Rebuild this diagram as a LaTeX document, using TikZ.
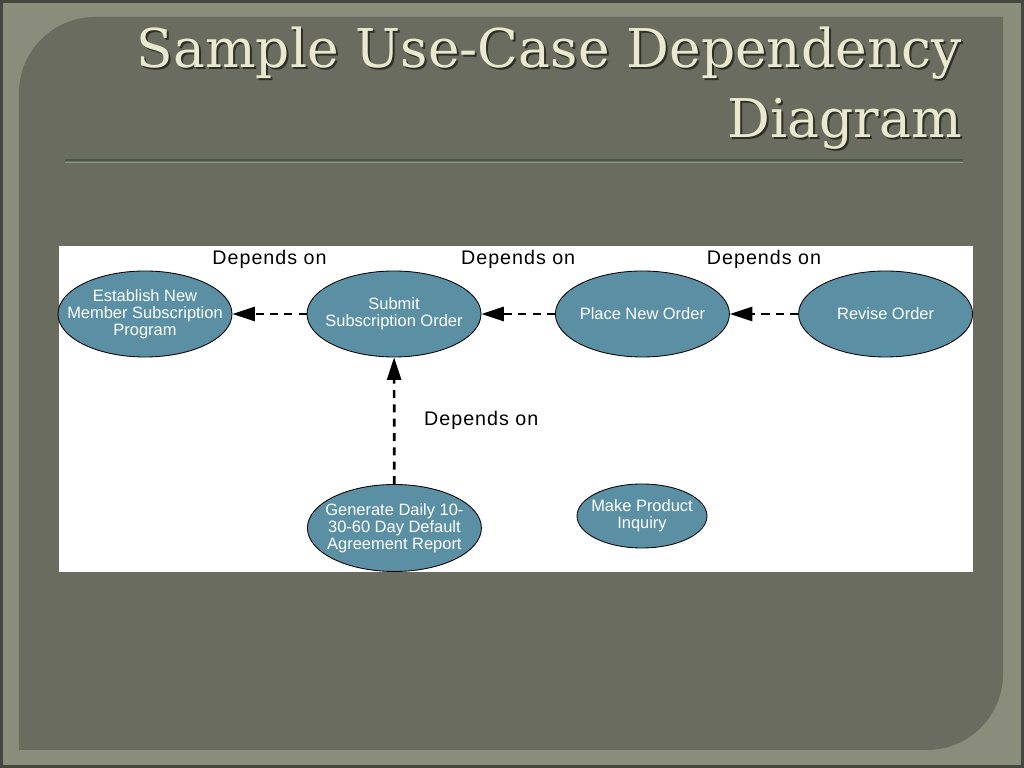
\documentclass[tikz,border=0pt]{standalone}
\usepackage{fontspec}
\usepackage{xcolor}
\usepackage{tikz}
\usetikzlibrary{positioning}
\usetikzlibrary{arrows.meta}
\usetikzlibrary{shapes.geometric}
\usetikzlibrary{calc}

\setmainfont{Liberation Sans}
\newfontfamily\titlefont{DejaVu Serif}
\newfontfamily\labelfont[LetterSpace=5]{Liberation Sans}

\definecolor{frame}{HTML}{8A8D7C}
\definecolor{frameedge}{HTML}{45483C}
\definecolor{panel}{HTML}{6A6C5F}
\definecolor{usecase}{HTML}{5B8FA3}
\definecolor{titletext}{HTML}{E8E9CE}
\definecolor{titleshadow}{HTML}{2E3028}
\definecolor{ruledark}{HTML}{4A5848}
\definecolor{rulelight}{HTML}{8E9A8A}

\begin{document}
\begin{tikzpicture}[
usecase/.style={
  ellipse,
  draw=black,
  line width=0.6pt,
  fill=usecase,
  text=white,
  minimum width=4.35cm,
  minimum height=2.15cm,
  inner xsep=-0.6cm,
  inner ysep=0pt,
  align=center,
  font=\fontsize{11.7}{12.2}\selectfont
},
  title/.style={
    anchor=base east,
    inner sep=0pt,
    font=\titlefont\fontsize{38}{40}\selectfont
  },
  dep/.style={
    -{Triangle[length=16pt, width=10pt]},
    line width=1.9pt,
    dash pattern=on 5.7pt off 4.5pt
  },
  deplabel/.style={font=\labelfont\fontsize{14}{16}\selectfont, text=black}
]

% ---- SLIDE: frame, panel, title ----
\fill[frameedge] (0,0) rectangle (25.6,19.2);
\fill[frame] (0.07,0.07) rectangle (25.53,19.13);
\fill[panel] (0.475,0.45) -- (0.475,16.875)
  arc[start angle=180, end angle=90, radius=1.9] -- (25.075,18.775)
  -- (25.075,2.35) arc[start angle=0, end angle=-90, radius=1.9] -- cycle;

\node[title, titleshadow] (t1s) at (24.1, 17.45) {Sample Use-Case Dependency};
\node[title, titleshadow] (t2s) at (24.1, 15.70) {Diagram};
\node[title, titletext] (t1) at (24.05, 17.5) {Sample Use-Case Dependency};
\node[title, titletext] (t2) at (24.05, 15.75) {Diagram};

\draw[ruledark, line width=1.4pt] (1.625,15.2) -- (24.075,15.2);
\draw[rulelight, line width=0.6pt] (1.625,15.14) -- (24.075,15.14);

% ---- DIAGRAM ----
\fill[white] (1.475,4.9) rectangle (24.325,13.05);

\node[usecase] (est) at (3.625, 11.35) {Establish New\\Member Subscription\\Program};
\node[usecase] (sub) at (9.85, 11.35) {Submit\\Subscription Order};
\node[usecase] (place) at (16.06, 11.35) {Place New Order};
\node[usecase] (rev) at (22.14, 11.35) {Revise Order};

\node[usecase, minimum height=2.175cm] (gen) at (9.86, 6.0) {Generate Daily 10-\\30-60 Day Default\\Agreement Report};
\node[usecase, minimum width=3.25cm, minimum height=1.6cm] (inq) at (16.05, 6.3) {Make Product\\Inquiry};

\draw[dep] (sub) -- node[deplabel, midway, yshift=1.36cm] {Depends on} (est);
\draw[dep] (place) -- node[deplabel, midway, yshift=1.36cm] {Depends on} (sub);
\draw[dep] (rev) -- node[deplabel, midway, yshift=1.36cm] {Depends on} (place);
\draw[dep] (gen) -- node[deplabel, midway, anchor=west, xshift=0.6cm] {Depends on} (sub);

\end{tikzpicture}
\end{document}
